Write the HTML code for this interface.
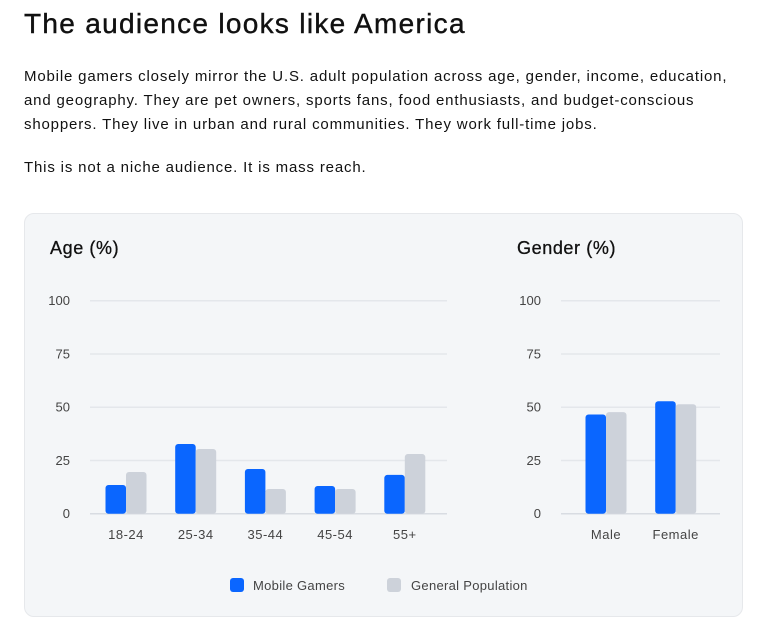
<!DOCTYPE html>
<html><head><meta charset="utf-8"><style>
body{margin:0;width:764px;height:637px;background:#fff;font-family:"Liberation Sans",sans-serif;color:#111;overflow:hidden;position:relative}
h1{position:absolute;left:24px;top:8px;margin:0;font-size:28px;font-weight:400;letter-spacing:1.3px;white-space:nowrap;-webkit-text-stroke:0.4px #111}
p{position:absolute;left:24px;margin:0;font-size:15px;line-height:24px;width:740px;letter-spacing:0.83px;white-space:nowrap}
.card{position:absolute;left:24px;top:213px;width:719px;height:404px;background:#f4f6f8;border:1px solid #e6e8eb;border-radius:10px;box-sizing:border-box}
svg{position:absolute;left:0;top:0}
</style></head><body>
<h1>The audience looks like America</h1>
<p style="top:65px">Mobile gamers closely mirror the U.S. adult population across age, gender, income, education,<br>and geography. They are pet owners, sports fans, food enthusiasts, and budget-conscious<br>shoppers. They live in urban and rural communities. They work full-time jobs.</p>
<p style="top:156px">This is not a niche audience. It is mass reach.</p>
<div class="card"></div>
<svg id="chart" width="764" height="637"></svg>
<script>
const ageCats=["18-24","25-34","35-44","45-54","55+"];
const ageGamers=[13.5,32.7,21,13,18.2];
const ageGeneral=[19.6,30.4,11.6,11.6,28];
const genderCats=["Male","Female"];
const genderGamers=[46.6,52.8];
const genderGeneral=[47.7,51.4];
const yTicks=[0,25,50,75,100];
const NS="http://www.w3.org/2000/svg";
const svg=document.getElementById('chart');
function mk(t,a,txt){const e=document.createElementNS(NS,t);for(const k in a)e.setAttribute(k,a[k]);if(txt!==undefined)e.textContent=txt;svg.appendChild(e);return e;}
const y0=513.7,y100=300.7;
function y(v){return y0-(y0-y100)*v/100;}
function panel(name,title,titleX,gx0,gx1,c0,step,cats,a,b){
  const t=mk('text',{x:titleX,y:254,'font-size':18,fill:'#111','letter-spacing':0.6,stroke:'#111','stroke-width':0.3},title);
  
  
  yTicks.forEach(v=>{
    const l=mk('line',{x1:gx0,x2:gx1,y1:y(v),y2:y(v),stroke:v===0?'#d8dce2':'#e4e7eb','stroke-width':1.5});
    
    
    const tt=mk('text',{x:gx0-20,y:y(v)+4.5,'font-size':13,fill:'#444','text-anchor':'end'},v);
    
    
  });
  cats.forEach((c,i)=>{
    const cx=c0+i*step;
    const r1=mk('rect',{x:cx-20.5,y:y(a[i]),width:20.5,height:y0-y(a[i]),rx:3,fill:'#0a66ff'});
    
    
    const r2=mk('rect',{x:cx,y:y(b[i]),width:20.5,height:y0-y(b[i]),rx:3,fill:'#cdd2da'});
    
    
    const lb=mk('text',{x:cx,y:539,'font-size':13,fill:'#444','text-anchor':'middle','letter-spacing':0.5},c);
    
    
  });
}
panel('age','Age (%)',50,90,447,126,69.7,ageCats,ageGamers,ageGeneral);
panel('gender','Gender (%)',517,561,720,606,69.7,genderCats,genderGamers,genderGeneral);
const s1=mk('rect',{x:230,y:578,width:14,height:14,rx:3,fill:'#0a66ff'});


const l1=mk('text',{x:253,y:590,'font-size':13,fill:'#444','letter-spacing':0.3},'Mobile Gamers');


const s2=mk('rect',{x:387,y:578,width:14,height:14,rx:3,fill:'#cdd2da'});


const l2=mk('text',{x:411,y:590,'font-size':13,fill:'#444','letter-spacing':0.3},'General Population');


</script>
</body></html>
